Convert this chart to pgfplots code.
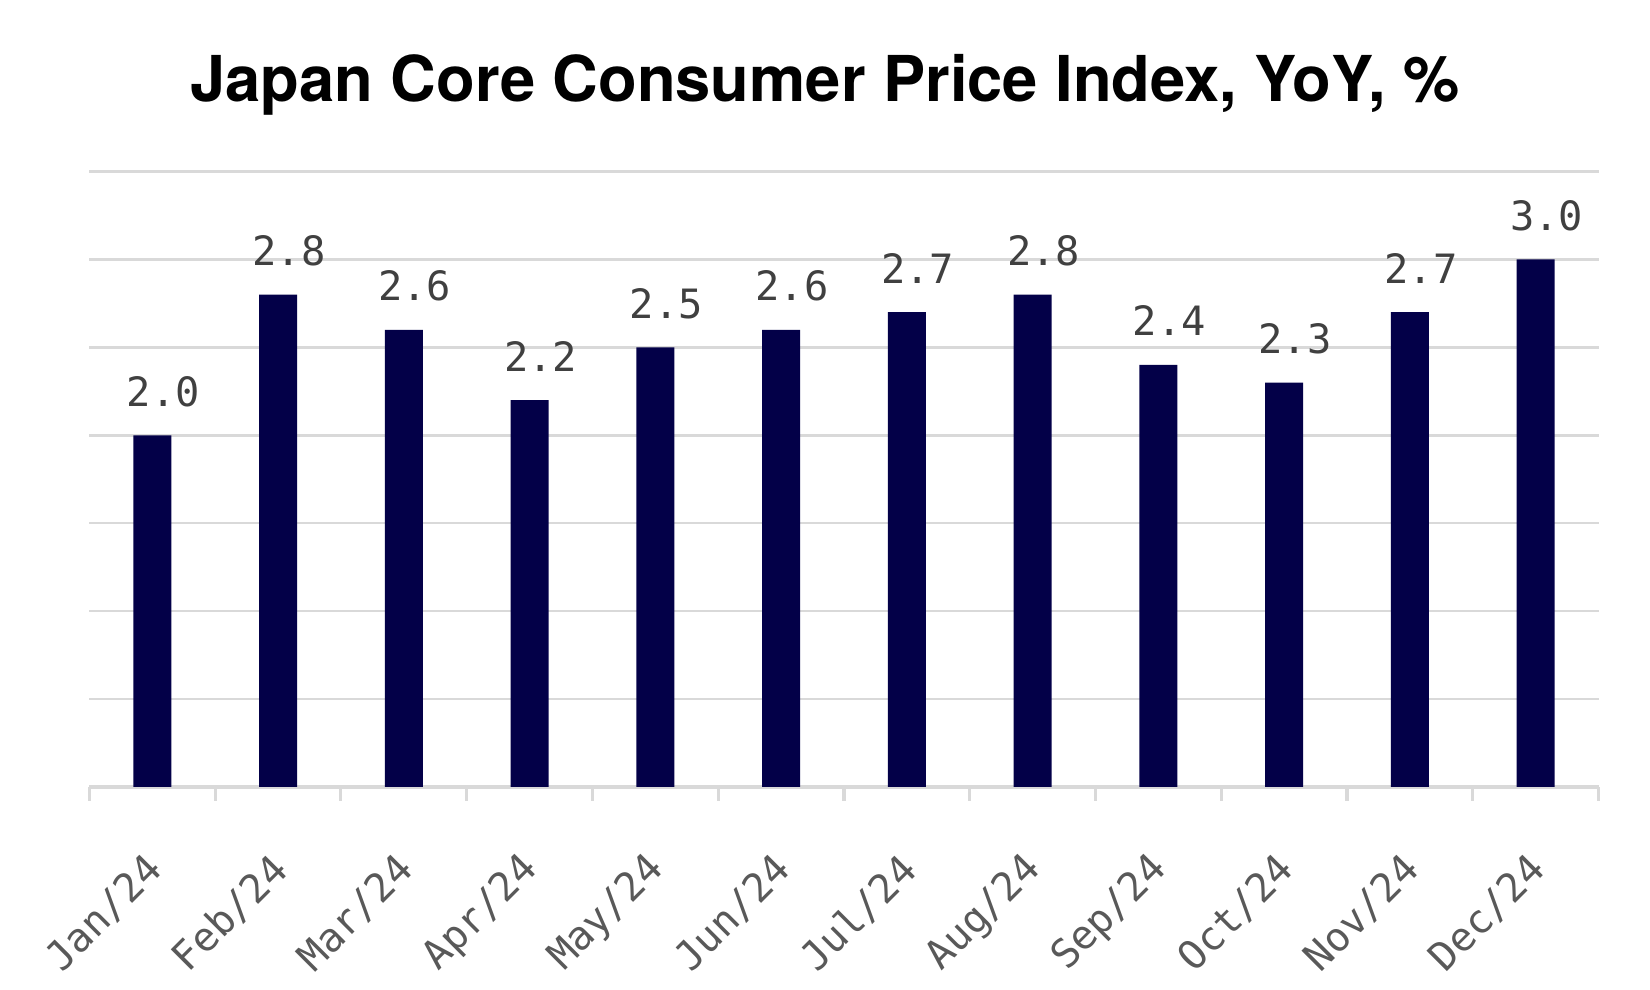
\documentclass[border=0pt]{standalone}
\usepackage{fontspec}
\setmainfont{TeX Gyre Heros}
\newfontfamily\monofont{DejaVu Sans Mono}
\usepackage{pgfplots}
\pgfplotsset{compat=1.18}
\definecolor{barnavy}{RGB}{3,0,72}
\definecolor{gridgray}{RGB}{217,217,217}
\definecolor{valgray}{RGB}{64,64,64}
\definecolor{tickgray}{RGB}{89,89,89}
\begin{document}
\begin{tikzpicture}[x=1cm,y=1cm]
\path[use as bounding box] (0,0) rectangle (16.5,9.9);
\node[anchor=base, inner sep=0pt, font=\fontsize{18}{20}\selectfont\bfseries] at (8.25,8.88) {Japan Core Consumer Price Index, YoY, \%};
\begin{axis}[
  at={(0.894cm,2.03cm)}, anchor=south west,
  width=15.091cm, height=6.155cm, scale only axis,
  /pgf/number format/assume math mode=true,
  xmin=-0.5, xmax=11.5,
  ymin=0, ymax=3.5,
  ytick={0,0.5,...,3.5}, yticklabels={},
  ymajorgrids, grid style={gridgray, line width=0.7pt},
  y axis line style={draw=none}, ytick style={draw=none},
  axis x line*=bottom,
  x axis line style={gridgray, line width=0.9pt},
  xtick={0,...,11},
  xticklabels={Jan/24,Feb/24,Mar/24,Apr/24,May/24,Jun/24,Jul/24,Aug/24,Sep/24,Oct/24,Nov/24,Dec/24},
  major x tick style={draw=none},
  minor xtick={-0.5,0.5,...,11.5},
  minor x tick style={gridgray, line width=0.9pt},
  minor tick length=0.14cm,
  tick align=outside,
  xticklabel style={font=\fontsize{11.3}{13}\selectfont\monofont, text=tickgray, rotate=45, anchor=east, inner sep=1pt, yshift=-0.45cm, xshift=-0.37cm},
  ybar, bar width=0.38cm,
  nodes near coords={\pgfmathprintnumber[fixed,fixed zerofill,precision=1]{\pgfplotspointmeta}},
  every node near coord/.append style={font=\fontsize{11.5}{13}\selectfont\monofont, text=valgray, anchor=base, yshift=0.29cm, xshift=0.11cm, inner sep=0pt},
  clip=false,
]
\addplot[fill=barnavy, draw=none] coordinates {
(0,2.0) (1,2.8) (2,2.6) (3,2.2) (4,2.5) (5,2.6) (6,2.7) (7,2.8) (8,2.4) (9,2.3) (10,2.7) (11,3.0)
};
\end{axis}
\end{tikzpicture}
\end{document}
